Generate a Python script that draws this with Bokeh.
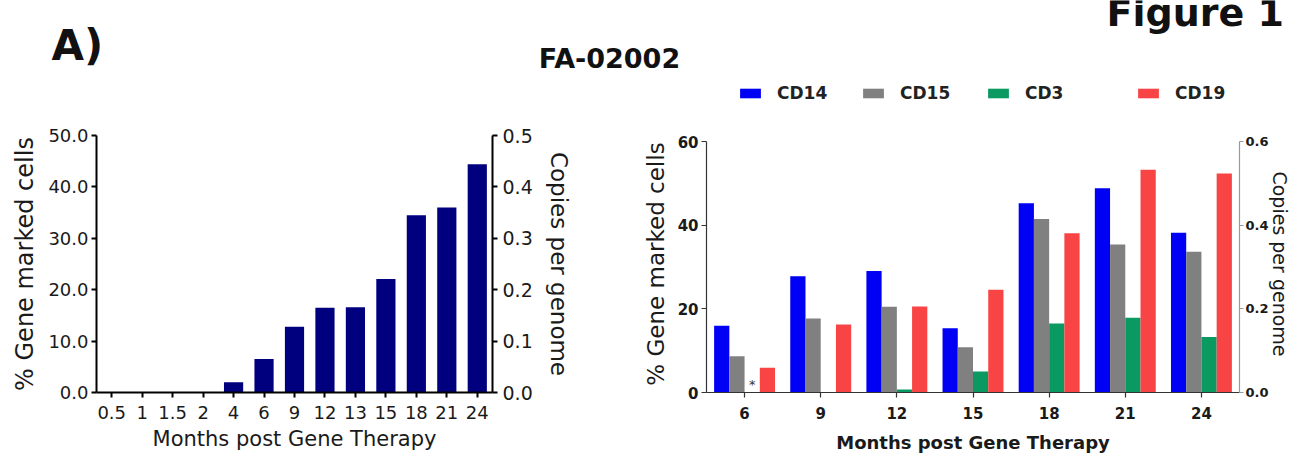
from bokeh.plotting import figure
from bokeh.models import (ColumnDataSource, FactorRange, Range1d, LinearAxis, FixedTicker,
                          PrintfTickFormatter, Label, Legend, LegendItem)
from bokeh.layouts import column, row
from bokeh.transform import dodge
from bokeh.embed import file_html
from bokeh.resources import INLINE
from bokeh.core.properties import value

# ---------------- data ----------------
left_months = ["0.5", "1", "1.5", "2", "4", "6", "9", "12", "13", "15", "18", "21", "24"]
left_gene_marked = [0, 0, 0, 0, 2.0, 6.5, 12.8, 16.5, 16.6, 22.1, 34.5, 36.0, 44.4]

right_months = ["6", "9", "12", "15", "18", "21", "24"]
cd14 = [16.0, 27.8, 29.1, 15.4, 45.3, 48.9, 38.2]
cd15 = [8.7, 17.7, 20.5, 10.8, 41.5, 35.4, 33.7]
cd3 = [0, 0, 0.7, 5.0, 16.5, 17.9, 13.3]
cd19 = [5.9, 16.3, 20.6, 24.6, 38.1, 53.3, 52.4]
series_names = ["CD14", "CD15", "CD3", "CD19"]
not_detected_month = ["6"]
not_detected_series = ["CD3"]

left_y_ticks = [0, 10, 20, 30, 40, 50]
left_y2_ticks = [0.0, 0.1, 0.2, 0.3, 0.4, 0.5]
right_y_ticks = [0, 20, 40, 60]
right_y2_ticks = [0.0, 0.2, 0.4, 0.6]

# ---------------- styles ----------------
FONT = "DejaVu Sans"
NAVY = "#00007F"
series_colors = ["#0000F5", "#808080", "#0A9960", "#F84444"]
series_offsets = [-0.3, -0.1, 0.1, 0.3]
legend_x = [737, 860, 985, 1135]


def style_axis(ax, color, width, tick_size, label_size, bold_ticks=False, label_bold=False):
    ax.axis_line_color = color
    ax.axis_line_width = width
    ax.major_tick_line_color = color
    ax.major_tick_line_width = width
    ax.major_tick_out = 5
    ax.major_tick_in = 0
    ax.minor_tick_line_color = None
    ax.major_label_text_font = FONT
    ax.major_label_text_font_size = tick_size
    ax.major_label_text_color = "#1a1a1a"
    ax.major_label_text_font_style = "bold" if bold_ticks else "normal"
    ax.axis_label_text_font = FONT
    ax.axis_label_text_font_size = label_size
    ax.axis_label_text_font_style = "bold" if label_bold else "normal"
    ax.axis_label_text_color = "#1a1a1a"


# ---------------- title strip (titles + legend) ----------------
STRIP_H = 106
tf = figure(width=1293, height=STRIP_H, x_range=Range1d(0, 1293), y_range=Range1d(STRIP_H, 0),
            output_backend="svg", toolbar_location=None, min_border=0,
            x_axis_location=None, y_axis_location=None)
tf.grid.visible = False
tf.outline_line_color = None
tf.add_layout(Label(x=51, y=45, text="A)", text_font=FONT, text_font_size="42px",
                    text_font_style="bold", text_baseline="alphabetic", text_align="left",
                    text_color="#111111"))
tf.add_layout(Label(x=609, y=58, text="FA-02002", text_font=FONT, text_font_size="27px",
                    text_font_style="bold", text_baseline="alphabetic", text_align="center",
                    text_color="#111111"))
tf.add_layout(Label(x=1106, y=12, text="Figure 1", text_font=FONT, text_font_size="38px",
                    text_font_style="bold", text_baseline="alphabetic", text_align="left",
                    text_color="#111111"))
# legend keys: proxy renderers that only carry the series colours (NaN data, never drawn)
nan = float("nan")
for name, color, lx in zip(series_names, series_colors, legend_x):
    proxy = tf.vbar(x=[nan], top=[nan], width=1, fill_color=color, line_color=None)
    leg = Legend(items=[LegendItem(label=name, renderers=[proxy])], location=(lx, 3),
                 orientation="horizontal", glyph_width=26, glyph_height=12, label_height=12,
                 label_standoff=14, padding=0, margin=0, border_line_color=None,
                 background_fill_alpha=0, label_text_font=FONT, label_text_font_size="17px",
                 label_text_font_style="bold", label_text_color="#222222")
    tf.add_layout(leg, "center")

# ---------------- left chart ----------------
ROW_H = 456 - STRIP_H
TOP_B = 29
BOT_B = 64
lp = figure(width=620, height=ROW_H, x_range=FactorRange(factors=left_months),
            y_range=Range1d(0, 50), output_backend="svg", toolbar_location=None,
            min_border_left=96, min_border_right=128, min_border_top=TOP_B,
            min_border_bottom=BOT_B)
lp.grid.visible = False
lp.outline_line_color = None
lsrc = ColumnDataSource(dict(month=left_months, value=left_gene_marked))
lp.vbar(x="month", top="value", width=0.63, source=lsrc, fill_color=NAVY, line_color=None)
lp.extra_y_ranges = {"copies": Range1d(0, 0.5)}
lax2 = LinearAxis(y_range_name="copies", axis_label="Copies per genome",
                  ticker=FixedTicker(ticks=left_y2_ticks),
                  formatter=PrintfTickFormatter(format="%.1f"))
lp.add_layout(lax2, "right")
lp.yaxis[0].ticker = FixedTicker(ticks=left_y_ticks)
lp.yaxis[0].formatter = PrintfTickFormatter(format="%.1f")
lp.yaxis[0].axis_label = "% Gene marked cells"
lp.xaxis[0].axis_label = "Months post Gene Therapy"
for ax in lp.xaxis + lp.yaxis:
    style_axis(ax, "#000000", 2, "18px", "24px")
lax2.major_label_text_font_size = "19px"
lax2.axis_label_text_font_size = "23px"
lp.xaxis[0].axis_label_text_font_size = "21px"
lp.xaxis[0].major_label_text_font_size = "18px"
lp.xaxis[0].major_label_standoff = 8
lp.xaxis[0].axis_label_standoff = 5
lp.yaxis[0].major_label_standoff = 3
lp.yaxis[0].axis_label_standoff = 6
lax2.major_label_standoff = 5
lax2.axis_label_standoff = 10

# ---------------- right chart ----------------
rp = figure(width=673, height=ROW_H, x_range=FactorRange(factors=right_months),
            y_range=Range1d(0, 61.5), output_backend="svg", toolbar_location=None,
            min_border_left=86, min_border_right=51, min_border_top=TOP_B,
            min_border_bottom=BOT_B)
rp.grid.visible = False
rp.outline_line_color = None
rsrc = ColumnDataSource(dict(month=right_months, CD14=cd14, CD15=cd15, CD3=cd3, CD19=cd19))
for name, color, off in zip(series_names, series_colors, series_offsets):
    rp.vbar(x=dodge("month", off, range=rp.x_range), top=name, width=0.2, source=rsrc,
            fill_color=color, line_color=None)

nd_off = series_offsets[series_names.index(not_detected_series[0])]
nd_src = ColumnDataSource(dict(month=not_detected_month, y=[0], t=["*"]))
rp.text(x=dodge("month", nd_off, range=rp.x_range), y="y", text="t", source=nd_src,
        text_font=value(FONT), text_font_size="13px", text_align="center",
        text_baseline="middle", y_offset=-8, text_color="#333333")

rp.extra_y_ranges = {"copies": Range1d(0, 0.615)}
rax2 = LinearAxis(y_range_name="copies", axis_label="Copies per genome",
                  ticker=FixedTicker(ticks=right_y2_ticks),
                  formatter=PrintfTickFormatter(format="%.1f"), bounds=(0, 0.6))
rp.add_layout(rax2, "right")
rp.yaxis[0].ticker = FixedTicker(ticks=right_y_ticks)
rp.yaxis[0].bounds = (0, 60)
rp.yaxis[0].axis_label = "% Gene marked cells"
rp.xaxis[0].axis_label = "Months post Gene Therapy"
for ax in rp.xaxis + rp.yaxis:
    style_axis(ax, "#333333", 1.2, "15px", "23px", bold_ticks=True)
rax2.axis_line_color = "#999999"
rax2.major_tick_line_color = "#999999"
rax2.major_tick_out = 4
rax2.major_label_text_font_size = "13px"
rp.xaxis[0].axis_label_text_font_style = "bold"
rp.xaxis[0].axis_label_text_font_size = "18px"
rp.xaxis[0].major_label_standoff = 9
rp.xaxis[0].axis_label_standoff = 10
rp.yaxis[0].major_label_standoff = 3
rp.yaxis[0].axis_label_standoff = 6
rax2.axis_label_text_font_size = "19px"
rax2.major_label_standoff = 2
rax2.axis_label_standoff = -3

layout = column(tf, row(lp, rp))
open("out.html", "w").write(file_html(layout, INLINE))
